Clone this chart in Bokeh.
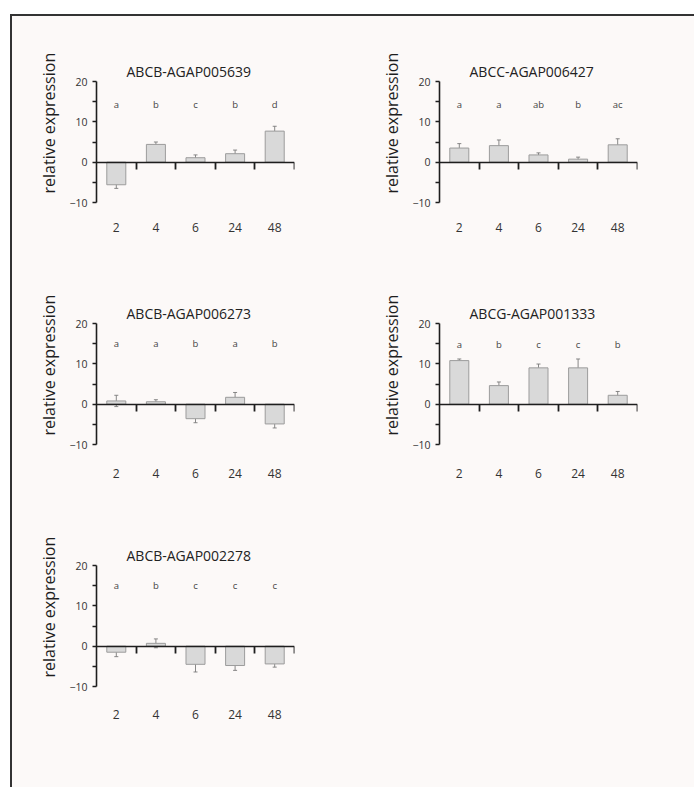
from bokeh.plotting import figure
from bokeh.models import (Range1d, LinearAxis, FixedTicker, CustomJSTickFormatter,
                          Whisker, TeeHead, ColumnDataSource, Title)
from bokeh.layouts import row, column
from bokeh.embed import file_html
from bokeh.resources import INLINE
from bokeh.core.properties import value

# ---------------- data ----------------
hours = ["2", "4", "6", "24", "48"]

genes = ["ABCB-AGAP005639", "ABCC-AGAP006427", "ABCB-AGAP006273",
         "ABCG-AGAP001333", "ABCB-AGAP002278"]

abcb_005639 = [-5.6, 4.4, 1.1, 2.1, 7.7]
abcb_005639_err = [0.9, 0.6, 0.7, 0.9, 1.2]
abcb_005639_sig = ["a", "b", "c", "b", "d"]

abcc_006427 = [3.5, 4.1, 1.8, 0.75, 4.3]
abcc_006427_err = [1.1, 1.4, 0.5, 0.5, 1.5]
abcc_006427_sig = ["a", "a", "ab", "b", "ac"]

abcb_006273 = [0.8, 0.6, -3.6, 1.7, -4.9]
abcb_006273_err = [1.4, 0.5, 1.0, 1.2, 1.0]
abcb_006273_sig = ["a", "a", "b", "a", "b"]

abcg_001333 = [10.8, 4.6, 9.0, 9.0, 2.2]
abcg_001333_err = [0.4, 0.9, 0.95, 2.2, 0.95]
abcg_001333_sig = ["a", "b", "c", "c", "b"]

abcb_002278 = [-1.5, 0.7, -4.5, -4.8, -4.4]
abcb_002278_err = [1.1, 1.1, 1.9, 1.2, 0.8]
abcb_002278_sig = ["a", "b", "c", "c", "c"]

y_ticks = [-10, 0, 10, 20]
y_minor = [-5, 5, 15]
y_label = "relative expression"

# ---------------- style ----------------
BG = "#fcf9f8"
FONT = "Open Sans"
INK = "#1e1e1e"

n = len(hours)
centers = [i + 0.5 for i in range(n)]        # category slots on a 0..n scale
boundaries = [i + 1 for i in range(n)]


def panel(title, vals, errs, sig, width, letter_y, label_standoff, height=242):
    frame_w = 198
    p = figure(width=width, height=height,
               x_range=Range1d(0, n), y_range=Range1d(-10, 20),
               x_axis_type=None, y_axis_type=None,
               output_backend="svg", toolbar_location=None,
               min_border_left=84, min_border_right=width - 84 - frame_w,
               min_border_top=65, min_border_bottom=height - 65 - 121,
               background_fill_color=BG, border_fill_color=BG,
               outline_line_color=None)
    p.xgrid.visible = False
    p.ygrid.visible = False

    p.title = Title(text=title, align="left", offset=30, standoff=1,
                    text_font=FONT, text_font_size="14px",
                    text_font_style="normal", text_color="#222222")

    src = ColumnDataSource(dict(
        x=centers, top=vals,
        upper=[v + e for v, e in zip(vals, errs)],
        lower=[v - e for v, e in zip(vals, errs)],
        sig=sig, sy=[letter_y] * n))

    p.vbar(x="x", top="top", bottom=0, width=0.48, source=src,
           fill_color="#d9d9d9", line_color="#9c9c9c", line_width=1)

    w = Whisker(base="x", upper="upper", lower="lower", source=src,
                line_color="#7a7a7a", line_width=0.9,
                upper_head=TeeHead(size=4, line_color="#7a7a7a", line_width=0.9),
                lower_head=TeeHead(size=4, line_color="#7a7a7a", line_width=0.9))
    p.add_layout(w)

    p.text(x="x", y="sy", text="sig", source=src,
           text_align="center", text_baseline="middle",
           text_font=value(FONT), text_font_size="9.5px", text_color="#444444")

    # y axis
    yax = LinearAxis(ticker=FixedTicker(ticks=y_ticks, minor_ticks=y_minor),
                     major_label_text_font=FONT, major_label_text_font_size="10.5px",
                     major_label_text_color="#333333", major_label_standoff=5,
                     axis_line_color=INK, axis_line_width=1.6,
                     major_tick_line_color=INK, major_tick_line_width=1.6,
                     major_tick_out=4, major_tick_in=0,
                     minor_tick_line_color=INK, minor_tick_line_width=1.6,
                     minor_tick_out=4, minor_tick_in=0)
    p.add_layout(yax, "left")
    # y axis title, shifted upward like in the original
    p.add_layout(Title(text=y_label, align="left", offset=9, vertical_align="middle",
                       standoff=12, text_font=FONT, text_font_size="16px",
                       text_font_style="normal", text_color=INK), "left")

    # category labels (closest to the frame)
    lab = LinearAxis(ticker=FixedTicker(ticks=centers, minor_ticks=[]),
                     formatter=CustomJSTickFormatter(args=dict(labels=hours),
                                                     code="return labels[Math.floor(tick)]"),
                     axis_line_color=None, major_tick_line_color=None,
                     minor_tick_line_color=None,
                     major_label_text_font=FONT, major_label_text_font_size="12px",
                     major_label_text_color="#333333",
                     major_label_standoff=label_standoff)
    p.add_layout(lab, "below")

    # zero line with ticks on category boundaries (minor ticks -> no labels)
    zax = LinearAxis(fixed_location=0,
                     ticker=FixedTicker(ticks=[], minor_ticks=boundaries),
                     axis_line_color=INK, axis_line_width=1.6,
                     major_tick_line_color=None,
                     minor_tick_line_color=INK, minor_tick_line_width=1.8,
                     minor_tick_out=7, minor_tick_in=0)
    p.add_layout(zax, "below")
    return p


p1 = panel(genes[0], abcb_005639, abcb_005639_err, abcb_005639_sig, 343, 14.3, 14)
p2 = panel(genes[1], abcc_006427, abcc_006427_err, abcc_006427_sig, 339, 14.4, 14)
p3 = panel(genes[2], abcb_006273, abcb_006273_err, abcb_006273_sig, 343, 15.1, 18)
p4 = panel(genes[3], abcg_001333, abcg_001333_err, abcg_001333_sig, 339, 14.9, 18)
p5 = panel(genes[4], abcb_002278, abcb_002278_err, abcb_002278_sig, 343, 15.1, 17, height=287)

layout = column(row(p1, p2, spacing=0), row(p3, p4, spacing=0), row(p5, spacing=0),
                spacing=0, margin=(14, 0, 0, 10),
                styles={"background-color": BG,
                        "border-left": "2px solid #333333",
                        "border-top": "2px solid #333333"})

open("out.html", "w").write(file_html(layout, INLINE))
